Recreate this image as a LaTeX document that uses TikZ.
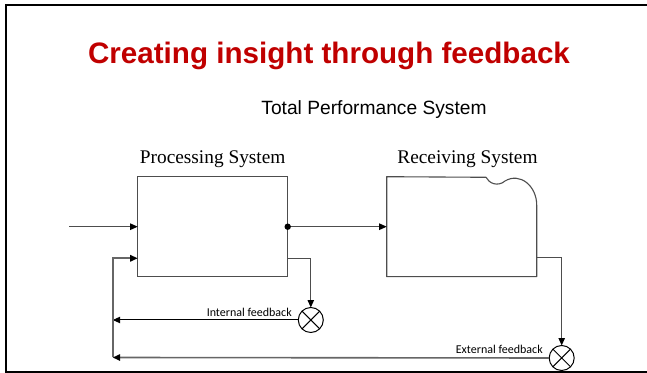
\documentclass[tikz,border=0pt]{standalone}
\usepackage{fontspec}
\setmainfont{Liberation Serif}
\newfontfamily\arialfont{Liberation Sans}
\newfontfamily\calibrifont{Carlito}
\usetikzlibrary{arrows.meta}
\definecolor{titlered}{HTML}{C00000}
\definecolor{linegray}{HTML}{4D4D4D}
\newdimen\upx
\upx=0.75pt
\tikzset{
  wire/.style={draw=linegray, line width=1.1\upx},
  arr/.style={wire, -{Triangle[length=5.6pt,width=4.8pt,color=black]}},
  boxnode/.style={draw=linegray, line width=1.1\upx, rectangle, inner sep=0pt, outer sep=0pt,
    minimum width=150\upx, minimum height=100\upx},
  ghost/.style={rectangle, inner sep=0pt, outer sep=0pt,
    minimum width=150\upx, minimum height=100\upx},
  mixer/.style={draw=black, line width=1\upx, circle, inner sep=0pt, outer sep=0pt, minimum size=25\upx},
  syslabel/.style={font=\fontsize{14.5}{17}\selectfont, anchor=base, inner sep=0pt},
  fblabel/.style={font=\calibrifont\fontsize{9}{11}\selectfont, anchor=base east, inner sep=0pt},
}
\begin{document}
\begin{tikzpicture}[x=0.75pt, y=-0.75pt]
\useasboundingbox (0,0) rectangle (647,373);
% slide frame
\draw[line width=1.5pt] (647,5.5) -- (5.5,5.5) -- (5.5,371.7) -- (647,371.7);

% headings
\node[font=\arialfont\bfseries\fontsize{22.2}{26}\selectfont, text=titlered, anchor=base, inner sep=0pt]
  (title) at (329,63.5) {Creating insight through feedback};
\node[font=\arialfont\fontsize{14.4}{17}\selectfont, anchor=base, inner sep=0pt]
  (tps) at (374,115) {Total Performance System};

% processing system
\node[boxnode] (proc) at (212.7,226.7) {};
\node[syslabel] (proclbl) at (212.7,163.3) {Processing System};

% receiving system (outline with notched top-right corner)
\node[ghost] (recv) at (461.7,226.7) {};
\draw[wire, line join=round]
  (recv.north west) -- (486,177.3)
  .. controls (489,183.5) and (498,187) .. (505,181)
  .. controls (520,172) and (536.7,186) .. (536.7,205)
  -- (recv.south east) -- (recv.south west) -- cycle;
\node[syslabel] (recvlbl) at (467.5,163.3) {Receiving System};

% comparators
\node[mixer] (c1) at (310.8,320) {};
\draw[line width=1\upx] (c1.north west) -- (c1.south east) (c1.north east) -- (c1.south west);
\node[mixer] (c2) at (561.7,358) {};
\draw[line width=1\upx] (c2.north west) -- (c2.south east) (c2.north east) -- (c2.south west);

% feedback labels
\node[fblabel] (ilbl) at (292,316.3) {Internal feedback};
\node[fblabel] (elbl) at (543,353.3) {External feedback};

% coordinates for connector ends
\coordinate (src) at (69,226.7);
\coordinate (pout) at (287.7,258.3);
\coordinate (rout) at (536.7,257.3);
\coordinate (fbcorner) at (112.7,357.5);
\coordinate (pin) at (137.7,258.3);

% forward path
\draw[arr] (src) -- (proc.west);
\draw[arr] (proc.east) -- (recv.west);
\fill (proc.east) circle (3.2);

% outputs to comparators
\draw[arr] (pout) -| (c1.north);
\draw[arr] (rout) -| (c2.north);

% feedback loops
\draw[arr, draw=black, line width=1\upx] (c1.west) -- (c1.west -| fbcorner);
\draw[arr, line width=1.6\upx, draw=gray!80!black] (c2.west) -- (fbcorner);
\draw[arr, line width=1.6\upx, draw=gray!80!black] (fbcorner) |- (pin);
\end{tikzpicture}
\end{document}
